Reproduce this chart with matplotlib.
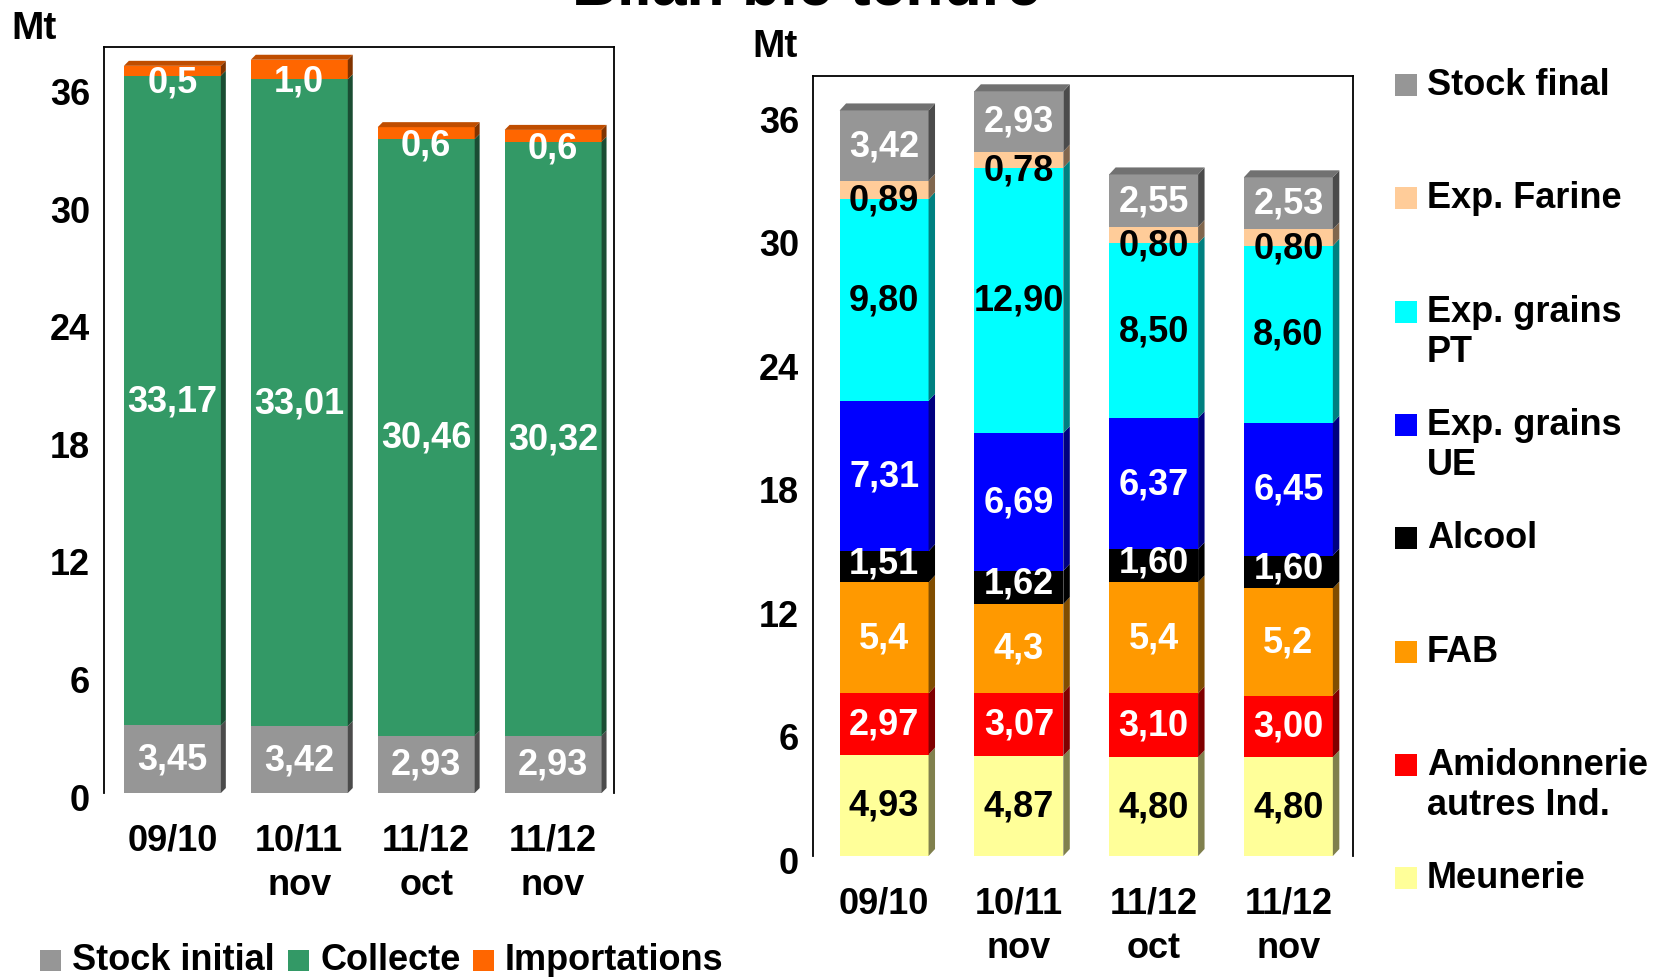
import matplotlib
matplotlib.use("Agg")
import matplotlib.pyplot as plt
from matplotlib.patches import Polygon, Rectangle
from matplotlib.colors import to_rgb
from matplotlib.transforms import ScaledTranslation

plt.rcParams['font.family'] = ['Liberation Sans', 'DejaVu Sans']
plt.rcParams['font.weight'] = 'bold'

# ---------------- data ----------------
campaigns = ['09/10', '10/11\nnov', '11/12\noct', '11/12\nnov']

# left chart : ressources
stock_initial = [3.45, 3.42, 2.93, 2.93]
collecte = [33.17, 33.01, 30.46, 30.32]
importations = [0.5, 1.0, 0.6, 0.6]

# right chart : emplois
meunerie = [4.93, 4.87, 4.80, 4.80]
amidonnerie = [2.97, 3.07, 3.10, 3.00]
fab = [5.4, 4.3, 5.4, 5.2]
alcool = [1.51, 1.62, 1.60, 1.60]
exp_grains_ue = [7.31, 6.69, 6.37, 6.45]
exp_grains_pt = [9.80, 12.90, 8.50, 8.60]
exp_farine = [0.89, 0.78, 0.80, 0.80]
stock_final = [3.42, 2.93, 2.55, 2.53]

yticks = [0, 6, 12, 18, 24, 30, 36]

# (label, values, colour, label colour, decimals, label offset)
left_series = [
    ('Stock initial', stock_initial, '#969696', 'white', 2, 0.0),
    ('Collecte', collecte, '#339966', 'white', 2, 0.0),
    ('Importations', importations, '#FF6600', 'white', 1, -0.6),
]
right_series = [
    ('Meunerie', meunerie, '#FFFF99', 'black', 2, 0.0),
    ('Amidonnerie\nautres Ind.', amidonnerie, '#FF0000', 'white', 2, 0.0),
    ('FAB', fab, '#FF9900', 'white', 1, 0.0),
    ('Alcool', alcool, '#000000', 'white', 2, 0.2),
    ('Exp. grains\nUE', exp_grains_ue, '#0000FF', 'white', 2, 0.0),
    ('Exp. grains\nPT', exp_grains_pt, '#00FFFF', 'black', 2, 0.0),
    ('Exp. Farine', exp_farine, '#FFCC99', 'black', 2, -0.5),
    ('Stock final', stock_final, '#969696', 'white', 2, 0.0),
]

FS = 26


def shade(c, f):
    return tuple(v * f for v in to_rgb(c))


def fmt(v, d):
    return f"{v:.{d}f}".replace('.', ',')


def stacked_3d(ax, series, width, dx, dy):
    x = list(range(len(campaigns)))
    bottom = [0.0] * len(x)
    n = len(series)
    for i, (name, vals, col, tcol, dec, off) in enumerate(series):
        bars = ax.bar(x, vals, width, bottom=bottom, color=col, linewidth=0, zorder=2)
        for r, v in zip(bars, vals):
            x0, y0 = r.get_x(), r.get_y()
            x1, y1 = x0 + r.get_width(), y0 + r.get_height()
            ax.add_patch(Polygon([(x1, y0), (x1 + dx, y0 + dy), (x1 + dx, y1 + dy), (x1, y1)],
                                 closed=True, fc=shade(col, 0.5), ec='none', zorder=2))
            if i == n - 1:
                ax.add_patch(Polygon([(x0, y1), (x0 + dx, y1 + dy), (x1 + dx, y1 + dy), (x1, y1)],
                                     closed=True, fc=shade(col, 0.75), ec='none', zorder=2))
            ax.text((x0 + x1) / 2, (y0 + y1) / 2 + off, fmt(v, dec), ha='center', va='center',
                    color=tcol, fontsize=FS, fontweight='bold', zorder=5)
        bottom = [b + v for b, v in zip(bottom, vals)]


def style_axes(ax, xlim, ylim):
    ax.set_xlim(*xlim)
    ax.set_ylim(*ylim)
    ax.set_yticks(yticks)
    ax.set_yticklabels([str(t) for t in yticks], fontsize=FS, fontweight='bold')
    ax.set_xticks(range(len(campaigns)))
    ax.set_xticklabels(campaigns, fontsize=FS, fontweight='bold', linespacing=1.35)
    ax.tick_params(axis='y', length=0, pad=10)
    ax.tick_params(axis='x', length=0, pad=21)
    ax.spines['bottom'].set_visible(False)
    for s in ('left', 'right', 'top'):
        ax.spines[s].set_linewidth(1.3)
        ax.spines[s].set_color('black')
    shift = ScaledTranslation(0, -3 / 100, ax.figure.dpi_scale_trans)
    for lab in ax.get_yticklabels():
        lab.set_transform(lab.get_transform() + shift)


fig = plt.figure(figsize=(16.6, 9.78), dpi=100)

axL = fig.add_axes([0.0625, 0.1881, 0.3074, 0.7632])
stacked_3d(axL, left_series, 0.764, 0.039, 0.255)
style_axes(axL, (-0.541, 3.48), (0, 38.1))

axR = fig.add_axes([0.4898, 0.1237, 0.3253, 0.7975])
stacked_3d(axR, right_series, 0.66, 0.048, 0.34)
style_axes(axR, (-0.527, 3.48), (0, 37.9))

W, H = 1660.0, 978.0

# title (mostly cut off at top, as in the reference)
fig.text(806 / W, 1 - 6 / H, 'Bilan blé tendre', ha='center', va='baseline',
         fontsize=45, fontweight='bold')

# units
fig.text(11 / W, 1 - 39 / H, 'Mt', ha='left', va='baseline', fontsize=28, fontweight='bold')
fig.text(752 / W, 1 - 57 / H, 'Mt', ha='left', va='baseline', fontsize=28, fontweight='bold')

# left legend (one row at bottom)
left_leg = [(40, 'Stock initial', '#969696'), (288, 'Collecte', '#339966'), (473, 'Importations', '#FF6600')]
for px, lab, col in left_leg:
    fig.patches.append(Rectangle((px / W, 1 - 972 / H), 21 / W, 21 / H, transform=fig.transFigure,
                                 fc=col, ec='none'))
    fig.text((px + 32) / W, 1 - 961 / H, lab, ha='left', va='center', fontsize=FS, fontweight='bold')

# right legend (top series first)
for k, (name, vals, col, tcol, dec, off) in enumerate(reversed(right_series)):
    yc = 86 + 113.3 * k
    fig.patches.append(Rectangle((1395 / W, 1 - (yc + 11) / H), 22 / W, 22 / H,
                                 transform=fig.transFigure, fc=col, ec='none'))
    fig.text(1427 / W, 1 - (yc - 18) / H, name, ha='left', va='top', fontsize=FS,
             fontweight='bold', linespacing=1.2)

fig.savefig('out.png', dpi=100, facecolor='white')
